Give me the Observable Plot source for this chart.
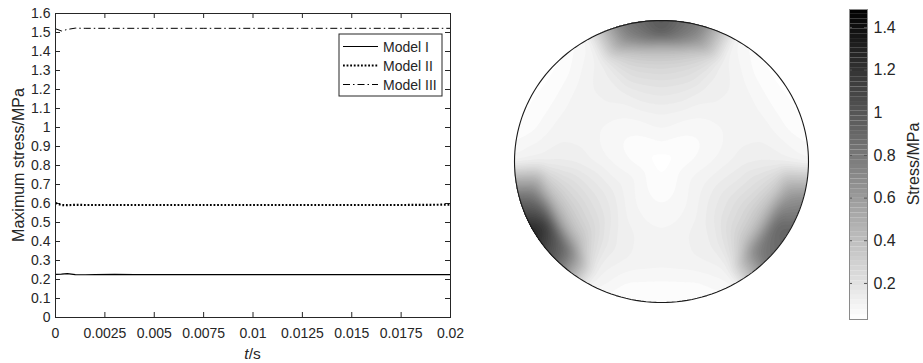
<!DOCTYPE html>
<html><head><meta charset="utf-8">
<script src="https://cdn.jsdelivr.net/npm/d3@7"></script>
<script src="https://cdn.jsdelivr.net/npm/@observablehq/plot@0.6"></script>
<style>
html,body{margin:0;padding:0;background:#fff;}
#wrap{position:relative;width:923px;height:363px;overflow:hidden;}
#wrap svg{position:absolute;top:0;overflow:visible;}
</style></head><body><div id="wrap"></div>
<script>
// ---------- left chart data ----------
const timeS = [0, 0.0003, 0.0006, 0.001, 0.0015, 0.002, 0.003, 0.004, 0.005, 0.0075, 0.01, 0.0125, 0.015, 0.0175, 0.02];
const modelI   = [0.227, 0.228, 0.231, 0.226, 0.225, 0.226, 0.227, 0.226, 0.226, 0.226, 0.226, 0.226, 0.226, 0.226, 0.226];
const modelII  = [0.603, 0.592, 0.591, 0.593, 0.592, 0.592, 0.592, 0.592, 0.592, 0.592, 0.592, 0.592, 0.592, 0.592, 0.594];
const modelIII = [1.520, 1.508, 1.516, 1.523, 1.522, 1.522, 1.522, 1.522, 1.522, 1.522, 1.522, 1.522, 1.522, 1.522, 1.522];
const seriesNames = ["Model I", "Model II", "Model III"];
const xTicks = [0, 0.0025, 0.005, 0.0075, 0.01, 0.0125, 0.015, 0.0175, 0.02];
const yTicks = [0, 0.1, 0.2, 0.3, 0.4, 0.5, 0.6, 0.7, 0.8, 0.9, 1, 1.1, 1.2, 1.3, 1.4, 1.5, 1.6];

// ---------- stress field data (polar samples, angle deg CCW from +x, radius fraction) ----------
const fieldAngles = [0,15,30,45,60,75,90,105,120,135,150,165,180,195,210,225,240,255,270,285,300,315,330,345];
const fieldRadii = [0.15, 0.35, 0.55, 0.7, 0.8, 0.9, 1.04];
const fieldCenter = 0.035;
const ring015 = [.065,.06,.055,.06,.065,.075,.08,.075,.065,.06,.055,.06,.065,.075,.085,.075,.065,.06,.055,.06,.065,.075,.08,.075];
const ring035 = [.1,.085,.08,.085,.1,.12,.13,.12,.1,.085,.08,.085,.1,.12,.135,.12,.1,.085,.08,.085,.1,.12,.13,.12];
const ring055 = [.14,.12,.11,.12,.14,.19,.21,.19,.14,.12,.11,.12,.14,.2,.22,.2,.14,.12,.11,.12,.14,.19,.21,.18];
const ring070 = [.15,.12,.11,.12,.15,.26,.3,.27,.15,.12,.11,.12,.15,.28,.32,.29,.16,.12,.11,.12,.15,.27,.3,.25];
const ring080 = [.14,.1,.09,.1,.14,.36,.45,.37,.14,.1,.09,.1,.14,.4,.5,.42,.15,.1,.09,.1,.14,.38,.44,.34];
const ring090 = [.12,.07,.06,.07,.12,.7,.95,.72,.12,.07,.06,.07,.13,.8,1.15,.85,.14,.07,.06,.07,.12,.75,.9,.62];
const ring104 = [.09,.04,.04,.04,.09,.8,1.05,.82,.09,.04,.04,.04,.1,.9,1.35,.95,.11,.04,.04,.04,.09,.85,.95,.7];
const colorTicks = [0.2, 0.4, 0.6, 0.8, 1, 1.2, 1.4];
const colorDomain = [0.031, 1.484];

const FONT = '"Liberation Sans", Arial, Helvetica, sans-serif';
const INK = "#262626";
const wrap = document.getElementById("wrap");

// ---------- left chart ----------
const seriesVals = [modelI, modelII, modelIII];
const lineData = seriesNames.flatMap((name, k) => timeS.map((t, i) => ({t, v: seriesVals[k][i], name})));
const W1 = 470, H1 = 363, mL = 55, mR = 20, mT = 13, mB = 46;
const fw = W1 - mL - mR, fh = H1 - mT - mB;
const dash = {"Model I": null, "Model II": "1.8,1.8", "Model III": "7,3,1.5,3"};
const sw = {"Model I": 1.2, "Model II": 2.2, "Model III": 1};

const left = Plot.plot({
  width: W1, height: H1,
  marginLeft: mL, marginRight: mR, marginTop: mT, marginBottom: mB,
  style: {fontFamily: FONT, fontSize: "14px", color: INK, background: "transparent"},
  x: {domain: [0, 0.02], ticks: xTicks, tickFormat: d => String(d), tickSize: 0, tickPadding: 11, label: null},
  y: {domain: [0, 1.6], ticks: yTicks, tickFormat: d => String(d), tickSize: 0, tickPadding: 5, label: null},
  marks: [
    Plot.tickY(yTicks, {y: d => d, insetRight: fw - 5, stroke: INK}),
    Plot.tickY(yTicks, {y: d => d, insetLeft: fw - 5, stroke: INK}),
    Plot.tickX(xTicks, {x: d => d, insetTop: fh - 5, stroke: INK}),
    Plot.tickX(xTicks, {x: d => d, insetBottom: fh - 5, stroke: INK}),
    ...seriesNames.map(name => Plot.line(lineData.filter(d => d.name === name), {
      x: "t", y: "v", stroke: "#000", strokeWidth: sw[name], strokeDasharray: dash[name],
      strokeLinecap: "butt", strokeLinejoin: "miter"
    })),
    Plot.frame({stroke: INK, strokeWidth: 1})
  ]
});
left.style.left = "0px";
wrap.appendChild(left);
{
  const s = d3.select(left);
  s.append("text").attr("transform", `translate(18,${(mT + H1 - mB) / 2}) rotate(-90)`)
    .attr("text-anchor", "middle").attr("dominant-baseline", "central")
    .attr("font-size", 16).attr("fill", INK).text("Maximum stress/MPa");
  const xl = s.append("text").attr("x", mL + fw / 2).attr("y", 359)
    .attr("text-anchor", "middle")
    .attr("font-size", 15.5).attr("fill", INK);
  xl.append("tspan").attr("font-style", "italic").text("t");
  xl.append("tspan").text("/s");
  // legend
  const lx = 339, ly = 34, lw = 103, lh = 62;
  const g = s.append("g");
  g.append("rect").attr("x", lx).attr("y", ly).attr("width", lw).attr("height", lh)
    .attr("fill", "#fff").attr("stroke", INK).attr("stroke-width", 1);
  seriesNames.forEach((name, i) => {
    const yy = ly + 12.5 + i * 19;
    g.append("line").attr("x1", lx + 4).attr("x2", lx + 39).attr("y1", yy).attr("y2", yy)
      .attr("stroke", "#000").attr("stroke-width", sw[name]).attr("stroke-dasharray", dash[name])
      .attr("stroke-linecap", "butt");
    g.append("text").attr("x", lx + 44).attr("y", yy).attr("dominant-baseline", "central")
      .attr("text-anchor", "start")
      .attr("font-size", 14).attr("fill", INK).text(name);
  });
}

// ---------- stress field ----------
const rings = [ring015, ring035, ring055, ring070, ring080, ring090, ring104];
const fieldPoints = [{x: 0, y: 0, v: fieldCenter}];
fieldRadii.forEach((r, j) => fieldAngles.forEach((a, i) => {
  const th = a * Math.PI / 180;
  fieldPoints.push({x: r * Math.cos(th), y: r * Math.sin(th), v: rings[j][i]});
}));
const outline = d3.range(0, 361, 2).map(a => ({x: Math.cos(a * Math.PI / 180), y: Math.sin(a * Math.PI / 180)}));
const colorOpts = {type: "linear", domain: colorDomain, range: ["#ffffff", "#000000"], interpolate: "rgb"};
const levels = d3.range(0, 1.5, 0.025);

const W2 = 320, fL = 14, fR = 12, fT = 20, fB = 61;
const field = Plot.plot({
  width: W2, height: H1, marginLeft: fL, marginRight: fR, marginTop: fT, marginBottom: fB,
  style: {fontFamily: FONT, background: "transparent"},
  x: {domain: [-1, 1], axis: null},
  y: {domain: [-1, 1], axis: null},
  color: colorOpts,
  marks: [
    Plot.contour(fieldPoints, {x: "x", y: "y", fill: "v", interpolate: "barycentric",
      blur: 2, pixelSize: 2, thresholds: levels, stroke: null}),
    Plot.line(outline, {x: "x", y: "y", stroke: "#1a1a1a", strokeWidth: 1.1})
  ]
});
field.style.left = "500px";
wrap.appendChild(field);
{
  const xs = field.scale("x"), ys = field.scale("y");
  const ax = v => xs.apply ? xs.apply(v) : xs.range[0] + (v - xs.domain[0]) / (xs.domain[1] - xs.domain[0]) * (xs.range[1] - xs.range[0]);
  const ay = v => ys.apply ? ys.apply(v) : ys.range[0] + (v - ys.domain[0]) / (ys.domain[1] - ys.domain[0]) * (ys.range[1] - ys.range[0]);
  const cx = ax(0), cy = ay(0), rx = Math.abs(ax(1) - cx), ry = Math.abs(ay(1) - cy);
  const s = d3.select(field);
  const defs = s.insert("defs", ":first-child");
  s.selectAll('g[aria-label="contour"]').each(function(_, k) {
    const m = field.getScreenCTM().inverse().multiply(this.getScreenCTM());
    const id = "diskclip" + k;
    defs.append("clipPath").attr("id", id)
      .append("ellipse").attr("cx", cx - m.e).attr("cy", cy - m.f).attr("rx", rx).attr("ry", ry);
    d3.select(this).attr("clip-path", `url(#${id})`);
  });
}

// ---------- colorbar ----------
const nBins = 64;
const bins = d3.range(nBins).map(i => {
  const a = colorDomain[0] + (colorDomain[1] - colorDomain[0]) * i / nBins;
  const b = colorDomain[0] + (colorDomain[1] - colorDomain[0]) * (i + 1) / nBins;
  return {a, b, m: (a + b) / 2};
});
const W3 = 103, cL = 29, cR = 56, cT = 9, cB = 44;
const cbw = W3 - cL - cR;
const cbar = Plot.plot({
  width: W3, height: H1, marginLeft: cL, marginRight: cR, marginTop: cT, marginBottom: cB,
  style: {fontFamily: FONT, fontSize: "16px", color: INK, background: "transparent"},
  x: {domain: [0, 1], axis: null},
  y: {domain: colorDomain, ticks: colorTicks, tickFormat: d => String(d), axis: "right", tickSize: 0, tickPadding: 6, label: null},
  color: colorOpts,
  marks: [
    Plot.rect(bins, {x1: 0, x2: 1, y1: "a", y2: "b", fill: "m"}),
    Plot.tickY(colorTicks, {y: d => d, insetLeft: cbw - 3, stroke: "#555"}),
    Plot.tickY(colorTicks, {y: d => d, insetRight: cbw - 3, stroke: "#555"}),
    Plot.frame({stroke: "#8a8a8a", strokeWidth: 1})
  ]
});
cbar.style.left = "820px";
wrap.appendChild(cbar);
d3.select(cbar).append("text")
  .attr("transform", `translate(93,${(cT + H1 - cB) / 2}) rotate(-90)`)
  .attr("text-anchor", "middle").attr("dominant-baseline", "central")
  .attr("font-size", 16).attr("fill", INK).text("Stress/MPa");
</script>
</body></html>
